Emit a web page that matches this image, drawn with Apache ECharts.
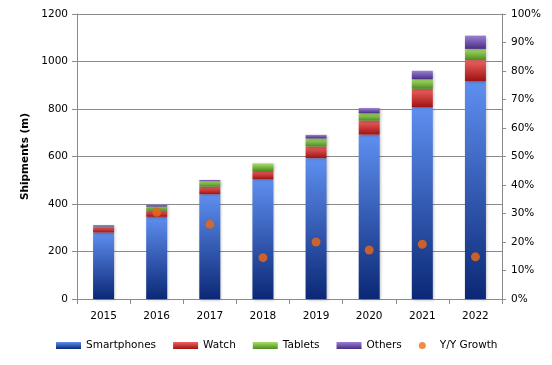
<!DOCTYPE html>
<html>
<head>
<meta charset="utf-8">
<script src="https://cdn.jsdelivr.net/npm/echarts@6/dist/echarts.min.js"></script>
<style>html,body{margin:0;padding:0;background:#fff}#c{width:552px;height:365px}</style>
</head>
<body>
<div id="c"></div>
<script>
var years = ['2015','2016','2017','2018','2019','2020','2021','2022'];
var smartphones = [280, 346, 441, 504, 593, 692, 807, 918];
var watch = [22, 26, 32, 35, 49, 59, 78, 88];
var tablets = [3, 17, 23, 32, 34, 31, 40, 47];
var others = [6, 8, 5, 0, 15, 22, 36, 56];
var growth = [null, 30.4, 26.2, 14.5, 20.0, 17.2, 19.2, 14.8];
var leftTicks = [0, 200, 400, 600, 800, 1000, 1200];

var FONT = 'DejaVu Sans';
function grad(top, bottom) {
  return new echarts.graphic.LinearGradient(0, 0, 0, 1, [
    {offset: 0, color: top}, {offset: 1, color: bottom}
  ]);
}
var barShadow = {shadowBlur: 3, shadowColor: 'rgba(0,0,0,0.28)', shadowOffsetX: 1, shadowOffsetY: 1};
function barSeries(name, data, top, bottom) {
  return {
    name: name, type: 'bar', stack: 'total', data: data, barWidth: 21,
    itemStyle: Object.assign({color: grad(top, bottom)}, barShadow),
    emphasis: {disabled: true}
  };
}
var chart = echarts.init(document.getElementById('c'));
chart.setOption({
  animation: false,
  textStyle: {fontFamily: FONT},
  grid: {left: 77, right: 50, top: 14, bottom: 66},
  legend: {
    left: 51, top: 335, itemWidth: 25, itemHeight: 7, itemGap: 17,
    textStyle: {fontFamily: FONT, fontSize: 10.5, color: '#000'},
    data: [
      {name: 'Smartphones', icon: 'rect'},
      {name: 'Watch', icon: 'rect'},
      {name: 'Tablets', icon: 'rect'},
      {name: 'Others', icon: 'rect'},
      {name: 'Y/Y Growth', icon: 'circle'}
    ]
  },
  xAxis: {
    type: 'category', data: years,
    axisLine: {lineStyle: {color: '#8a8a8a'}},
    axisTick: {show: true, length: 5, lineStyle: {color: '#8a8a8a'}},
    axisLabel: {color: '#000', fontSize: 10.5, fontFamily: FONT, margin: 12}
  },
  yAxis: [{
    type: 'value', min: leftTicks[0], max: leftTicks[leftTicks.length - 1], interval: 200,
    name: 'Shipments (m)', nameLocation: 'middle', nameGap: 41, nameRotate: 90,
    nameTextStyle: {fontFamily: FONT, fontWeight: 'bold', fontSize: 10.5, color: '#000'},
    axisLine: {show: true, lineStyle: {color: '#8a8a8a'}},
    axisTick: {show: true, length: 5, lineStyle: {color: '#8a8a8a'}},
    axisLabel: {color: '#000', fontSize: 10.5, fontFamily: FONT, margin: 9,
      formatter: function (v) { return String(v); }},
    splitLine: {show: true, lineStyle: {color: '#8a8a8a', width: 1}}
  }, {
    type: 'value', min: 0, max: 100, interval: 10, position: 'right',
    axisLine: {show: true, lineStyle: {color: '#8a8a8a'}},
    axisTick: {show: true, length: 4, lineStyle: {color: '#8a8a8a'}},
    axisLabel: {color: '#000', fontSize: 10.5, fontFamily: FONT, margin: 9, formatter: '{value}%'},
    splitLine: {show: false}
  }],
  series: [
    barSeries('Smartphones', smartphones, '#5e8ff0', '#0b2876'),
    barSeries('Watch', watch, '#f06262', '#9e1212'),
    barSeries('Tablets', tablets, '#a6e066', '#4f8a22'),
    barSeries('Others', others, '#9a80d4', '#4a2c84'),
    {
      name: 'Y/Y Growth', type: 'scatter', yAxisIndex: 1, data: growth,
      symbol: 'circle', symbolSize: 9, z: 5,
      itemStyle: {color: '#f36c1c', shadowBlur: 1, shadowColor: 'rgba(0,0,0,0.25)'},
      emphasis: {disabled: true}
    }
  ]
});
</script>
</body>
</html>
